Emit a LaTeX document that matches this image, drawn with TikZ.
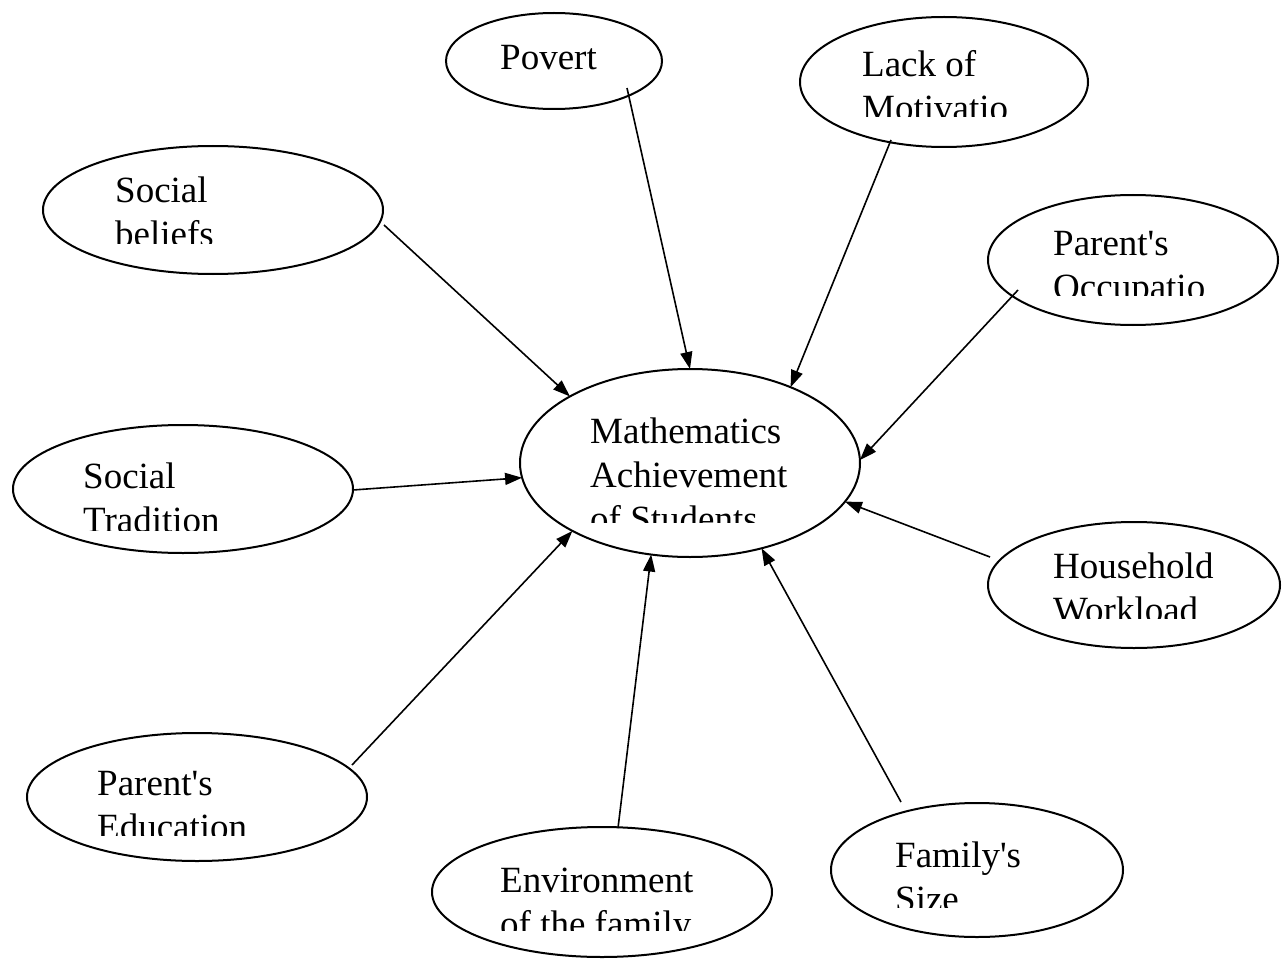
\documentclass[tikz,border=0pt]{standalone}
\usepackage{fontspec}
\setmainfont{Liberation Serif}
\usetikzlibrary{shapes.geometric,arrows.meta}
\newcommand{\apos}{\textquotesingle}
\begin{document}
\begin{tikzpicture}[x=1pt,y=-1pt,
 ell/.style={draw,ellipse,line width=2pt,inner sep=0pt,outer sep=0pt},
 lbl/.style={anchor=base west,inner sep=0pt,font=\fontsize{37}{44}\selectfont},
 arr/.style={line width=1.6pt,-{Triangle[length=17pt,width=12pt]}}]
\fill[white] (0,0) rectangle (1282,960);
\useasboundingbox (0,0) rectangle (1282,960);

% ellipses
\node[ell,minimum width=340pt,minimum height=188pt] (math) at (690,463) {};
\node[ell,minimum width=216pt,minimum height=96pt] (pov) at (554,61) {};
\node[ell,minimum width=288pt,minimum height=130pt] (lack) at (944,82) {};
\node[ell,minimum width=340pt,minimum height=128pt] (sb) at (213,210) {};
\node[ell,minimum width=290pt,minimum height=130pt] (po) at (1133,260) {};
\node[ell,minimum width=340pt,minimum height=128pt] (st) at (183,489) {};
\node[ell,minimum width=292pt,minimum height=126pt] (hw) at (1134,585) {};
\node[ell,minimum width=340pt,minimum height=128pt] (pe) at (197,797) {};
\node[ell,minimum width=340pt,minimum height=130pt] (env) at (602,892) {};
\node[ell,minimum width=292pt,minimum height=134pt] (fs) at (977,870) {};

% labels (clipped as in the original)
\node[lbl] (povT) at (500,70) {Povert};
\begin{scope}\clip (850,0) rectangle (1100,117);
 \node[lbl] (lackA) at (862,77) {Lack of};
 \node[lbl] (lackB) at (862,121) {Motivatio};
\end{scope}
\begin{scope}\clip (100,140) rectangle (360,243);
 \node[lbl] (sbA) at (115,203) {Social};
 \node[lbl] (sbB) at (115,247) {beliefs};
\end{scope}
\begin{scope}\clip (1040,200) rectangle (1275,295);
 \node[lbl] (poA) at (1053,255) {Parent\apos s};
 \node[lbl] (poB) at (1053,299) {Occupatio};
\end{scope}
\begin{scope}\clip (580,390) rectangle (850,522);
 \node[lbl] (mA) at (590,443) {Mathematics};
 \node[lbl] (mB) at (590,487) {Achievement};
 \node[lbl] (mC) at (590,531) {of Students};
\end{scope}
\begin{scope}\clip (70,440) rectangle (340,530);
 \node[lbl] (stA) at (83,488) {Social};
 \node[lbl] (stB) at (83,532) {Tradition};
\end{scope}
\begin{scope}\clip (1040,530) rectangle (1275,618);
 \node[lbl] (hwA) at (1053,578) {Household};
 \node[lbl] (hwB) at (1053,622) {Workload};
\end{scope}
\begin{scope}\clip (85,745) rectangle (360,835);
 \node[lbl] (peA) at (97,795) {Parent\apos s};
 \node[lbl] (peB) at (97,839) {Education};
\end{scope}
\begin{scope}\clip (490,840) rectangle (760,930);
 \node[lbl] (envA) at (500,892) {Environment};
 \node[lbl] (envB) at (500,936) {of the family};
\end{scope}
\begin{scope}\clip (885,820) rectangle (1110,907);
 \node[lbl] (fsA) at (895,867) {Family\apos s};
 \node[lbl] (fsB) at (895,911) {Size};
\end{scope}

% tails of the connectors
\coordinate (tPov) at (627,88);
\coordinate (tLack) at (891,140);
\coordinate (tSb) at (384,225);
\coordinate (tPo) at (1018,290);
\coordinate (tSt) at (353,490);
\coordinate (tHw) at (990,557);
\coordinate (tPe) at (352,765);
\coordinate (tEnv) at (618,828);
\coordinate (tFs) at (901,802);

% connectors
\draw[arr] (tPov) -- (math.90);
\draw[arr] (tLack) -- (math.37.7);
\draw[arr] (tSb) -- (math.151);
\draw[arr] (tPo) -- (math.1);
\draw[arr] (tSt) -- (math.185.7);
\draw[arr] (tHw) -- (math.-14.5);
\draw[arr] (tPe) -- (math.210);
\draw[arr] (tEnv) -- (math.247);
\draw[arr] (tFs) -- (math.-50.5);
\end{tikzpicture}
\end{document}
